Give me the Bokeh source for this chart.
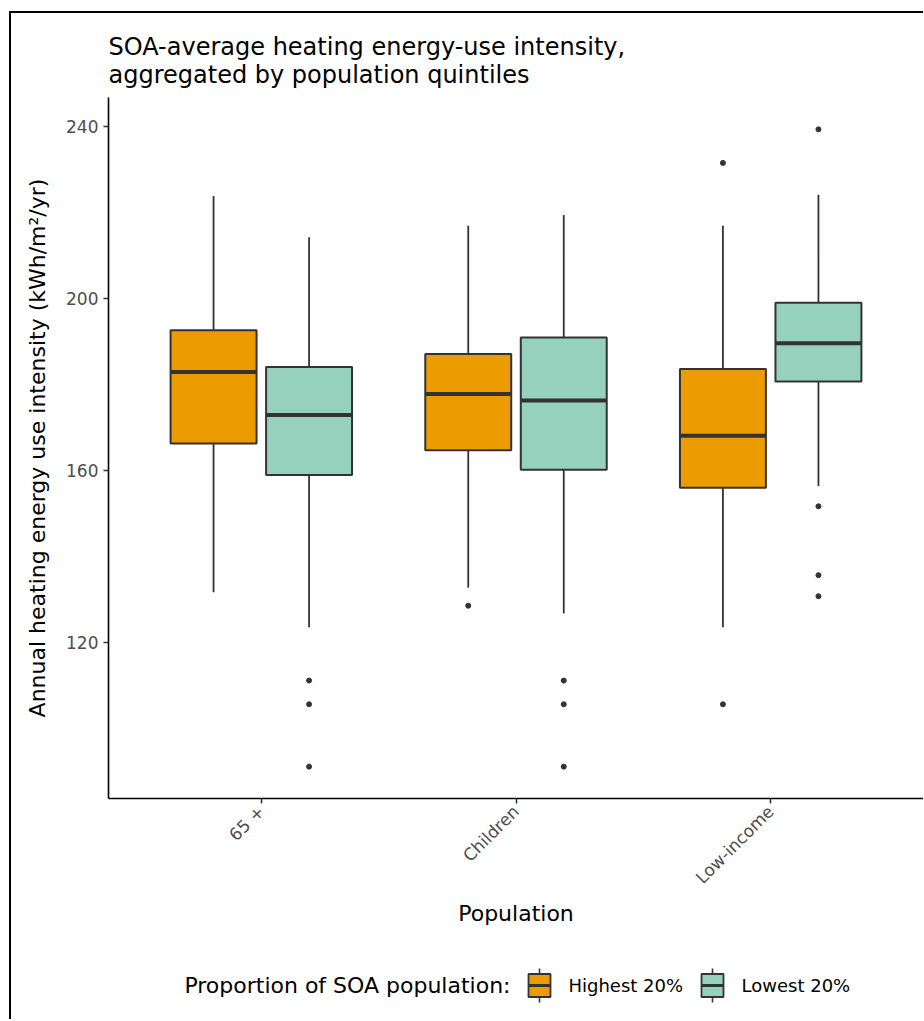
import math
from bokeh.plotting import figure
from bokeh.models import Range1d, FixedTicker, ColumnDataSource
from bokeh.layouts import column
from bokeh.embed import file_html
from bokeh.resources import INLINE
from bokeh.core.properties import value

# ---------------- data ----------------
categories = ["65 +", "Children", "Low-income"]
groups = ["Highest 20%", "Lowest 20%"]

high_lower = [131.7, 132.8, 123.6]
high_q1 = [166.3, 164.7, 156.0]
high_median = [182.9, 177.8, 168.1]
high_q3 = [192.6, 187.1, 183.6]
high_upper = [223.8, 216.9, 216.9]

low_lower = [123.6, 126.8, 156.4]
low_q1 = [159.0, 160.2, 180.7]
low_median = [172.9, 176.3, 189.6]
low_q3 = [184.1, 190.9, 199.0]
low_upper = [214.2, 219.4, 224.1]

high_outlier_cat = ["Children", "Low-income", "Low-income"]
high_outlier_val = [128.6, 231.5, 105.7]
low_outlier_cat = ["65 +", "65 +", "65 +", "Children", "Children", "Children",
                   "Low-income", "Low-income", "Low-income", "Low-income"]
low_outlier_val = [111.2, 105.7, 91.2, 111.2, 105.7, 91.2, 239.3, 151.7, 135.7, 130.8]

y_ticks = [120, 160, 200, 240]

title_lines = ["SOA-average heating energy-use intensity,",
               "aggregated by population quintiles"]
legend_title = "Proportion of SOA population:"

# ---------------- styling / layout ----------------
FONT = "DejaVu Sans"
COLORS = ["#EB9C00", "#96D1BD"]
EDGE = "#333333"
W = 912            # width of every strip (content starts at page x = 11)
MB_LEFT = 97       # frame left at page x = 108
FRAME_L, FRAME_R = 108, 923
TOP0 = 13          # page y where the content starts (after margin + border)
FRAME_TOP = 97
FRAME_BOTTOM = 798
MAIN_BOTTOM = 950
LEG_BOTTOM = 1019
DODGE = 0.1875
BOX_W = 0.3375


def blank_strip(y_top, y_bottom):
    f = figure(width=W, height=y_bottom - y_top,
               x_range=Range1d(FRAME_L, FRAME_R), y_range=Range1d(y_bottom, y_top),
               output_backend="svg", toolbar_location=None,
               min_border_left=MB_LEFT, min_border_right=0,
               min_border_top=0, min_border_bottom=0)
    f.axis.visible = False
    f.xgrid.visible = False
    f.ygrid.visible = False
    f.outline_line_color = None
    return f


# ---------------- header (title) ----------------
head = blank_strip(TOP0, FRAME_TOP)
head.text(x=[FRAME_L, FRAME_L], y=[46, 74], text=title_lines,
          text_align="left", text_baseline="alphabetic",
          text_font=value(FONT), text_font_size="24px", text_color="black")

# ---------------- main plot ----------------
p = figure(width=W, height=MAIN_BOTTOM - FRAME_TOP, title=None,
           x_range=Range1d(0.4, 3.6), y_range=Range1d(83.8, 246.7),
           output_backend="svg", toolbar_location=None,
           min_border_left=MB_LEFT, min_border_right=0,
           min_border_top=0, min_border_bottom=MAIN_BOTTOM - FRAME_BOTTOM)
p.xgrid.visible = False
p.ygrid.visible = False
p.outline_line_color = None

cat_index = {c: i + 1 for i, c in enumerate(categories)}

series = [
    (high_lower, high_q1, high_median, high_q3, high_upper, high_outlier_cat, high_outlier_val),
    (low_lower, low_q1, low_median, low_q3, low_upper, low_outlier_cat, low_outlier_val),
]

for gi, (lo, q1, med, q3, up, ocat, oval) in enumerate(series):
    off = -DODGE if gi == 0 else DODGE
    xs = [cat_index[c] + off for c in categories]
    src = ColumnDataSource(dict(
        x=xs, x0=[x - BOX_W / 2 for x in xs], x1=[x + BOX_W / 2 for x in xs],
        lower=lo, q1=q1, med=med, q3=q3, upper=up))
    p.segment(x0="x", y0="q3", x1="x", y1="upper", source=src,
              line_color=EDGE, line_width=1.8)
    p.segment(x0="x", y0="lower", x1="x", y1="q1", source=src,
              line_color=EDGE, line_width=1.8)
    p.vbar(x="x", width=BOX_W, bottom="q1", top="q3", source=src,
           fill_color=COLORS[gi], line_color=EDGE, line_width=2)
    p.segment(x0="x0", y0="med", x1="x1", y1="med", source=src,
              line_color=EDGE, line_width=4, line_cap="butt")
    ox = [cat_index[c] + off for c in ocat]
    p.scatter(x=ox, y=oval, size=5, fill_color=EDGE, line_color=EDGE)

p.xaxis.ticker = FixedTicker(ticks=[1, 2, 3])
p.xaxis.major_label_overrides = {1: categories[0], 2: categories[1], 3: categories[2]}
p.xaxis.major_label_orientation = math.pi / 4
p.yaxis.ticker = FixedTicker(ticks=y_ticks)
for ax in (p.xaxis[0], p.yaxis[0]):
    ax.axis_line_color = "black"
    ax.axis_line_width = 1.6
    ax.major_tick_line_color = EDGE
    ax.major_tick_line_width = 1.5
    ax.major_tick_out = 5
    ax.major_tick_in = 0
    ax.minor_tick_line_color = None
    ax.major_label_text_font = FONT
    ax.major_label_text_font_size = "17px"
    ax.major_label_text_color = "#4D4D4D"
    ax.major_label_standoff = 5
    ax.axis_label_text_font = FONT
    ax.axis_label_text_font_size = "22px"
    ax.axis_label_text_font_style = "normal"
    ax.axis_label_text_color = "black"

p.xaxis.axis_label = "Population"
p.xaxis.axis_label_standoff = 3
p.yaxis.axis_label = "Annual heating energy use intensity (kWh/m\u00b2/yr)"
p.yaxis.axis_label_standoff = 13

# ---------------- legend strip ----------------
leg = blank_strip(MAIN_BOTTOM, LEG_BOTTOM)
row_y = 985
leg.text(x=[510], y=[row_y], text=[legend_title],
         text_align="right", text_baseline="middle",
         text_font=value(FONT), text_font_size="22px", text_color="black")
key_x = [539, 712]
lab_x = [568, 741]
for gi, grp in enumerate(groups):
    kx = key_x[gi]
    leg.segment(x0=[kx], y0=[row_y - 17], x1=[kx], y1=[row_y + 17],
                line_color=EDGE, line_width=1.6)
    leg.rect(x=[kx], y=[row_y], width=22, height=23, fill_color=COLORS[gi],
             line_color=EDGE, line_width=1.8)
    leg.segment(x0=[kx - 11], y0=[row_y], x1=[kx + 11], y1=[row_y],
                line_color=EDGE, line_width=3, line_cap="butt")
    leg.text(x=[lab_x[gi]], y=[row_y], text=[grp], text_align="left",
             text_baseline="middle", text_font=value(FONT),
             text_font_size="18px", text_color="black")

layout = column(head, p, leg, styles={"margin-left": "9px", "margin-top": "11px",
                                      "border-left": "2px solid black",
                                      "border-top": "2px solid black"})

open("out.html", "w").write(file_html(layout, INLINE))
